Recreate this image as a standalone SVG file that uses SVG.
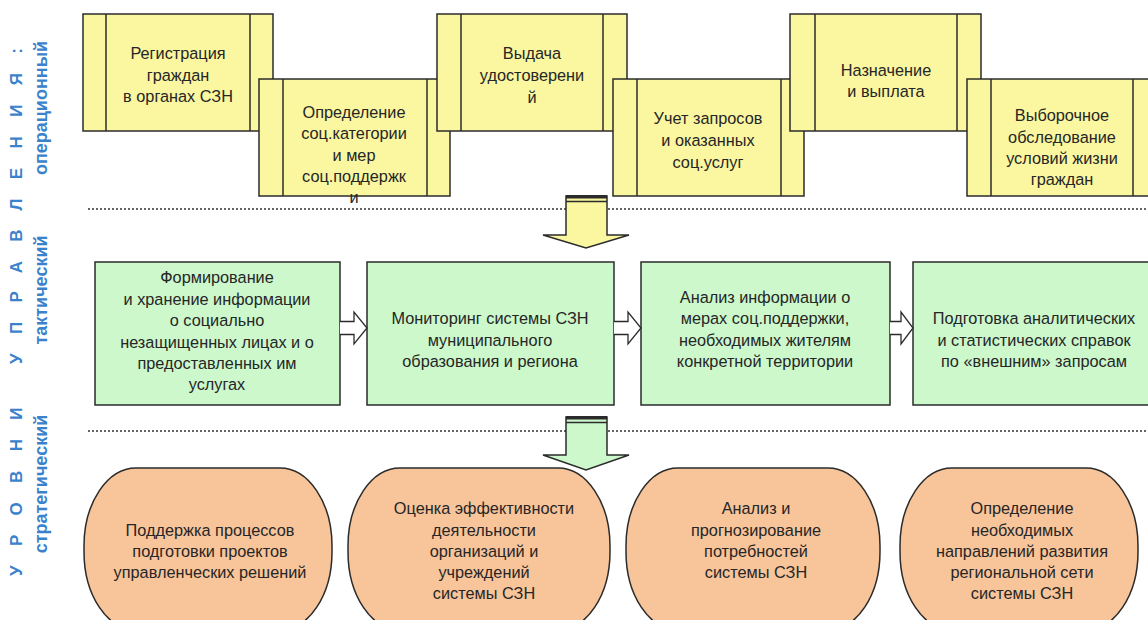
<svg xmlns="http://www.w3.org/2000/svg" width="1148" height="620" viewBox="0 0 1148 620">
<style>
  .t { font-family: "Liberation Sans", Arial, sans-serif; font-size: 16.3px; fill: #262626; text-anchor: middle; }
  .yb { fill: #faf7a0; stroke: #2b2b2b; stroke-width: 1.5; }
  .gb { fill: #ccf8cc; stroke: #2b2b2b; stroke-width: 1.5; }
  .ob { fill: #f8c49a; stroke: #2b2b2b; stroke-width: 1.5; }
  .ln { stroke: #2b2b2b; stroke-width: 1.5; }
  .dot { stroke: #333; stroke-width: 1.6; stroke-dasharray: 2 2; fill: none; }
  .lvl { font-family: "Liberation Sans", Arial, sans-serif; font-weight: bold; fill: #3a82cc; }
  .harr { fill: #ffffff; stroke: #2b2b2b; stroke-width: 1.3; }
</style>
<rect width="1148" height="620" fill="#ffffff"/>

<g id="levels">
  <text class="lvl" font-size="17" transform="translate(22,576) rotate(-90)" textLength="528" lengthAdjust="spacing">УРОВНИ УПРАВЛЕНИЯ:</text>
  <text class="lvl" font-size="18" text-anchor="middle" transform="translate(47,108) rotate(-90)">операционный</text>
  <text class="lvl" font-size="18" text-anchor="middle" transform="translate(47,290) rotate(-90)">тактический</text>
  <text class="lvl" font-size="18" text-anchor="middle" transform="translate(47,484) rotate(-90)">стратегический</text>
</g>

<g id="separators">
  <line class="dot" x1="88" y1="209" x2="1148" y2="209"/>
  <line class="dot" x1="88" y1="431" x2="1148" y2="431"/>
</g>

<g id="op1">
  <rect class="yb" x="83" y="14" width="190" height="117"/>
  <line class="ln" x1="106" y1="14" x2="106" y2="131"/>
  <line class="ln" x1="250" y1="14" x2="250" y2="131"/>
  <text class="t"><tspan x="178" y="59">Регистрация</tspan><tspan x="178" y="81">граждан</tspan><tspan x="178" y="102">в органах СЗН</tspan></text>
</g>
<g id="op2">
  <rect class="yb" x="259" y="79" width="191" height="117"/>
  <line class="ln" x1="283" y1="79" x2="283" y2="196"/>
  <line class="ln" x1="427" y1="79" x2="427" y2="196"/>
  <text class="t"><tspan x="354" y="118">Определение</tspan><tspan x="354" y="139">соц.категории</tspan><tspan x="354" y="161">и мер</tspan><tspan x="354" y="182">соц.поддержк</tspan><tspan x="354" y="203">и</tspan></text>
</g>
<g id="op3">
  <rect class="yb" x="437" y="14" width="190" height="117"/>
  <line class="ln" x1="461" y1="14" x2="461" y2="131"/>
  <line class="ln" x1="603" y1="14" x2="603" y2="131"/>
  <text class="t"><tspan x="532" y="59">Выдача</tspan><tspan x="532" y="81">удостоверени</tspan><tspan x="532" y="103">й</tspan></text>
</g>
<g id="op4">
  <rect class="yb" x="613" y="79" width="191" height="117"/>
  <line class="ln" x1="637" y1="79" x2="637" y2="196"/>
  <line class="ln" x1="781" y1="79" x2="781" y2="196"/>
  <text class="t"><tspan x="708" y="124">Учет запросов</tspan><tspan x="708" y="146">и оказанных</tspan><tspan x="708" y="168">соц.услуг</tspan></text>
</g>
<g id="op5">
  <rect class="yb" x="790" y="14" width="191" height="117"/>
  <line class="ln" x1="815" y1="14" x2="815" y2="131"/>
  <line class="ln" x1="957" y1="14" x2="957" y2="131"/>
  <text class="t"><tspan x="886" y="76">Назначение</tspan><tspan x="886" y="97">и выплата</tspan></text>
</g>
<g id="op6">
  <rect class="yb" x="967" y="79" width="190" height="117"/>
  <line class="ln" x1="991" y1="79" x2="991" y2="196"/>
  <line class="ln" x1="1133" y1="79" x2="1133" y2="196"/>
  <text class="t"><tspan x="1062" y="121">Выборочное</tspan><tspan x="1062" y="143">обследование</tspan><tspan x="1062" y="164">условий жизни</tspan><tspan x="1062" y="185">граждан</tspan></text>
</g>

<g id="tac1">
  <rect class="gb" x="95" y="262" width="245" height="143"/>
  <text class="t"><tspan x="217" y="283">Формирование</tspan><tspan x="217" y="305">и хранение информации</tspan><tspan x="217" y="326">о социально</tspan><tspan x="217" y="348">незащищенных лицах и о</tspan><tspan x="217" y="369">предоставленных им</tspan><tspan x="217" y="390">услугах</tspan></text>
</g>
<g id="tac2">
  <rect class="gb" x="367" y="262" width="247" height="143"/>
  <text class="t"><tspan x="490" y="324">Мониторинг системы СЗН</tspan><tspan x="490" y="346">муниципального</tspan><tspan x="490" y="367">образования и региона</tspan></text>
</g>
<g id="tac3">
  <rect class="gb" x="641" y="262" width="249" height="143"/>
  <text class="t"><tspan x="765" y="303">Анализ информации о</tspan><tspan x="765" y="324">мерах соц.поддержки,</tspan><tspan x="765" y="346">необходимых жителям</tspan><tspan x="765" y="367">конкретной территории</tspan></text>
</g>
<g id="tac4">
  <rect class="gb" x="913" y="262" width="247" height="143"/>
  <text class="t"><tspan x="1034" y="324">Подготовка аналитических</tspan><tspan x="1034" y="346">и статистических справок</tspan><tspan x="1034" y="367">по «внешним» запросам</tspan></text>
</g>

<g id="str1">
  <rect class="ob" x="84" y="468" width="248" height="162" rx="52" ry="78"/>
  <text class="t"><tspan x="210" y="536">Поддержка процессов</tspan><tspan x="210" y="557">подготовки проектов</tspan><tspan x="210" y="578">управленческих решений</tspan></text>
</g>
<g id="str2">
  <rect class="ob" x="348" y="468" width="262" height="162" rx="52" ry="78"/>
  <text class="t"><tspan x="484" y="514">Оценка эффективности</tspan><tspan x="484" y="536">деятельности</tspan><tspan x="484" y="557">организаций и</tspan><tspan x="484" y="578">учреждений</tspan><tspan x="484" y="599">системы СЗН</tspan></text>
</g>
<g id="str3">
  <rect class="ob" x="626" y="468" width="254" height="162" rx="52" ry="78"/>
  <text class="t"><tspan x="756" y="514">Анализ и</tspan><tspan x="756" y="536">прогнозирование</tspan><tspan x="756" y="557">потребностей</tspan><tspan x="756" y="578">системы СЗН</tspan></text>
</g>
<g id="str4">
  <rect class="ob" x="900" y="468" width="238" height="162" rx="52" ry="78"/>
  <text class="t"><tspan x="1022" y="514">Определение</tspan><tspan x="1022" y="536">необходимых</tspan><tspan x="1022" y="557">направлений развития</tspan><tspan x="1022" y="578">региональной сети</tspan><tspan x="1022" y="599">системы СЗН</tspan></text>
</g>

<g id="connectors">
  <path class="harr" d="M340,321.5 H354 V312 L367,328 L354,344 V334.5 H340"/>
  <path class="harr" d="M614,321.5 H628 V312 L641,328 L628,344 V334.5 H614"/>
  <path class="harr" d="M890,321.5 H901 V312 L913,328 L901,344 V334.5 H890"/>

  <path d="M566,196 H607 V235 H629 L586,248 L543,235 H566 Z" fill="#faf7a0" stroke="#2b2b2b" stroke-width="1.5" stroke-linejoin="miter"/>
  <rect x="566" y="195" width="41" height="3.5" fill="#2b2b2b"/>
  <line x1="566" y1="201.5" x2="607" y2="201.5" stroke="#2b2b2b" stroke-width="1.5"/>

  <path d="M566,417 H607 V455 H629 L586,470 L543,455 H566 Z" fill="#ccf8cc" stroke="#2b2b2b" stroke-width="1.5" stroke-linejoin="miter"/>
  <rect x="566" y="416" width="41" height="3.5" fill="#2b2b2b"/>
  <line x1="566" y1="422.5" x2="607" y2="422.5" stroke="#2b2b2b" stroke-width="1.5"/>
</g>
</svg>
